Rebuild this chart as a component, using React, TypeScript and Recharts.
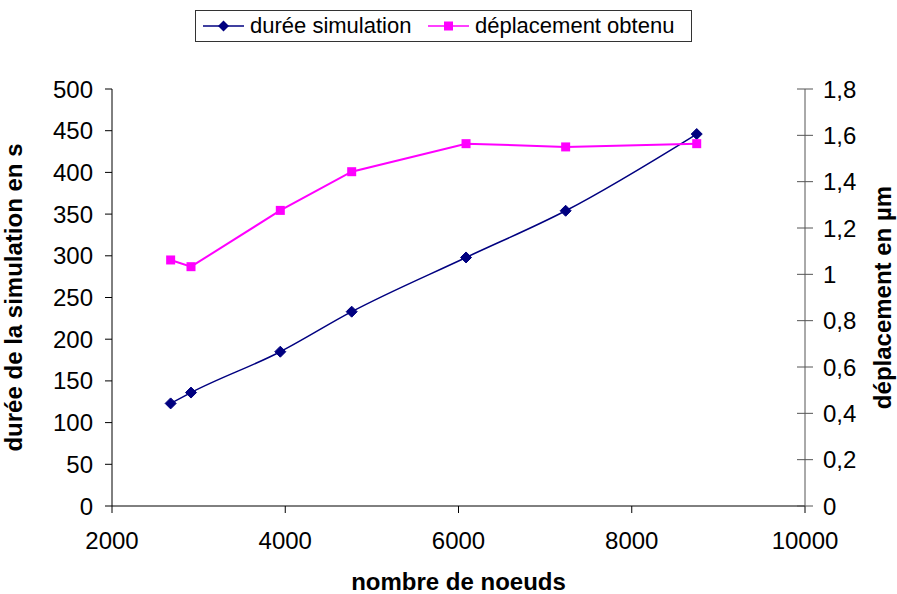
import React from "react";
import { LineChart, Line, XAxis, YAxis } from "recharts";

// nombre de noeuds du maillage
const nodes = [2677, 2912, 3943, 4767, 6087, 7237, 8750];
// durée simulation (s)
const duree = [123, 136, 185, 233, 298, 354, 446];
// déplacement obtenu (µm)
const deplacement = [1.062, 1.033, 1.276, 1.443, 1.564, 1.55, 1.564];

const xTicks = [2000, 4000, 6000, 8000, 10000];
const leftTicks = [0, 50, 100, 150, 200, 250, 300, 350, 400, 450, 500];
const rightTicks = [0, 0.2, 0.4, 0.6, 0.8, 1, 1.2, 1.4, 1.6, 1.8];

const NAVY = "#000080";
const MAGENTA = "#FF00FF";
const FONT = "'Liberation Sans', Arial, sans-serif";

const data = nodes.map((n, i) => ({ nodes: n, duree: duree[i], deplacement: deplacement[i] }));

const fmtComma = (v: number) => String(Math.round(v * 10) / 10).replace(".", ",");

function Diamond(props: { cx?: number; cy?: number; index?: number }) {
  const { cx, cy } = props;
  if (cx == null || cy == null) return null;
  const r = 5.5;
  return (
    <polygon
      key={props.index}
      points={`${cx},${cy - r} ${cx + r},${cy} ${cx},${cy + r} ${cx - r},${cy}`}
      fill={NAVY}
      stroke={NAVY}
    />
  );
}

function Square(props: { cx?: number; cy?: number; index?: number }) {
  const { cx, cy } = props;
  if (cx == null || cy == null) return null;
  const s = 9;
  return <rect key={props.index} x={cx - s / 2} y={cy - s / 2} width={s} height={s} fill={MAGENTA} />;
}

// right axis ticks cross the axis line in the original, so draw the inner half here
function RightTick(props: { x?: number; y?: number; payload?: { value: number } }) {
  const { x = 0, y = 0, payload } = props;
  const axisX = x - 8 - 10;
  return (
    <g>
      <line x1={axisX - 8} y1={y} x2={axisX} y2={y} stroke="#555" strokeWidth={1} />
      <text x={x} y={y} dy="0.355em" textAnchor="start" fill="#000" fontSize={24} fontFamily={FONT}>
        {fmtComma(payload ? payload.value : 0)}
      </text>
    </g>
  );
}

function LegendItem({ color, label, shape, left }: { color: string; label: string; shape: "diamond" | "square"; left: number }) {
  return (
    <div style={{ position: "absolute", left, top: 0, height: 30, display: "flex", alignItems: "center" }}>
      <svg width={41} height={14} style={{ flex: "none" }}>
        <line x1={0} y1={7} x2={41} y2={7} stroke={color} strokeWidth={1.5} />
        {shape === "diamond" ? (
          <polygon points="20.5,1.5 26,7 20.5,12.5 15,7" fill={color} />
        ) : (
          <rect x={16} y={2.5} width={9} height={9} fill={color} />
        )}
      </svg>
      <span style={{ marginLeft: 6 }}>{label}</span>
    </div>
  );
}

export default function App() {
  return (
    <div style={{ position: "absolute", left: 0, top: 0, width: 897, height: 594, background: "#fff", fontFamily: FONT }}>
      <LineChart width={897} height={594} data={data} margin={{ top: 89, right: 0, bottom: 0, left: 0 }}>
        <XAxis
          dataKey="nodes"
          type="number"
          domain={[2000, 10000]}
          ticks={xTicks}
          height={88}
          tickSize={7}
          tickMargin={19}
          stroke="#000"
          tick={{ fill: "#000", fontSize: 24, fontFamily: FONT }}
          label={{
            value: "nombre de noeuds",
            position: "insideBottom",
            offset: 4,
            style: { fontSize: 24, fontWeight: "bold", fill: "#000", fontFamily: FONT },
          }}
        />
        <YAxis
          yAxisId="left"
          domain={[0, 500]}
          ticks={leftTicks}
          width={112}
          tickSize={7}
          tickMargin={12}
          stroke="#000"
          interval={0}
          tick={{ fill: "#000", fontSize: 24, fontFamily: FONT }}
          label={{
            value: "durée de la simulation en s",
            angle: -90,
            position: "insideLeft",
            offset: 13,
            style: { textAnchor: "middle", fontSize: 24, fontWeight: "bold", fill: "#000", fontFamily: FONT },
          }}
        />
        <YAxis
          yAxisId="right"
          orientation="right"
          domain={[0, 1.8]}
          ticks={rightTicks}
          width={92}
          tickSize={8}
          tickMargin={10}
          stroke="#555"
          interval={0}
          tick={<RightTick />}
          label={{
            value: "déplacement en µm",
            angle: -90,
            position: "insideRight",
            offset: 15,
            style: { textAnchor: "middle", fontSize: 24, fontWeight: "bold", fill: "#000", fontFamily: FONT },
          }}
        />
        <Line
          yAxisId="left"
          type="monotone"
          dataKey="duree"
          stroke={NAVY}
          strokeWidth={1.5}
          dot={<Diamond />}
          activeDot={false}
          isAnimationActive={false}
        />
        <Line
          yAxisId="right"
          type="linear"
          dataKey="deplacement"
          stroke={MAGENTA}
          strokeWidth={2}
          dot={<Square />}
          activeDot={false}
          isAnimationActive={false}
        />
      </LineChart>
      <div
        style={{
          position: "absolute",
          left: 195,
          top: 10,
          width: 497,
          height: 32,
          boxSizing: "border-box",
          border: "1px solid #333",
          background: "#fff",
          fontSize: 22,
          color: "#000",
          whiteSpace: "nowrap",
        }}
      >
        <LegendItem color={NAVY} label="durée simulation" shape="diamond" left={7} />
        <LegendItem color={MAGENTA} label="déplacement obtenu" shape="square" left={232} />
      </div>
    </div>
  );
}
